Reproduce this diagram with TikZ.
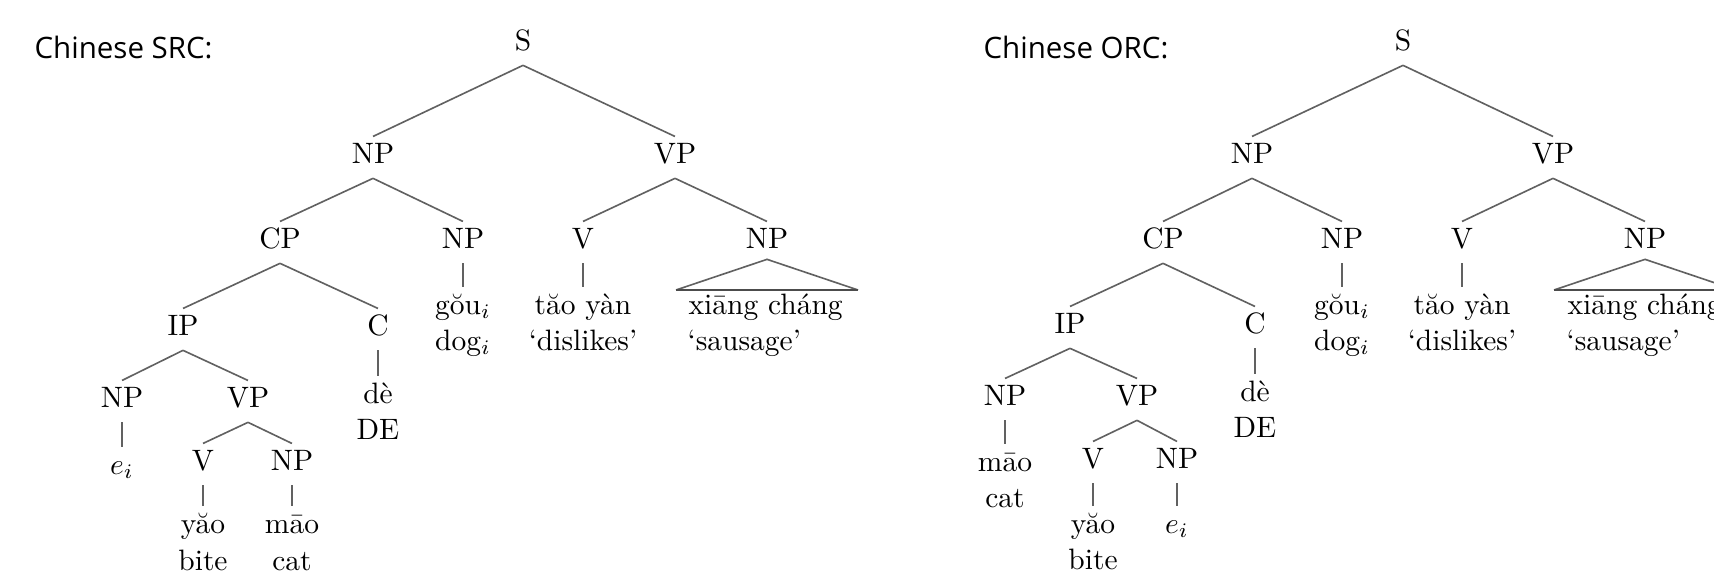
\documentclass[tikz,border=0pt]{standalone}
\usepackage{fontspec}
\newfontfamily\titlefont{Open Sans}
\usetikzlibrary{calc}
\tikzset{
  tn/.style={anchor=base, inner xsep=0pt, inner ysep=0pt, text height=8.8pt, text depth=5pt, font=\fontsize{10}{12}\selectfont},
  edge/.style={draw=black!62, line width=0.55pt},
  tribase/.style={draw=black!70, line width=0.8pt},
  ttl/.style={anchor=base west, inner sep=0pt, font=\titlefont\fontsize{10}{12}\selectfont},
}
\begin{document}
\begin{tikzpicture}[x=0.339pt, y=-0.339pt]
\clip (0,0) rectangle (1714,584);
\fill[white] (0,0) rectangle (1714,584);
% ---------- titles ----------
\node[ttl] (t1) at (34,58) {Chinese SRC:};
\node[ttl] (t2) at (983,58) {Chinese ORC:};
% ---------- left tree (SRC) ----------
\node[tn] (LS) at (523,50) {S};
\node[tn] (LNP1) at (373,163) {NP};
\node[tn] (LVP1) at (675,163) {VP};
\node[tn] (LCP) at (280,248) {CP};
\node[tn] (LNP2) at (463,248) {NP};
\node[tn] (LV1) at (583,248) {V};
\node[tn] (LNP3) at (767,248) {NP};
\node[tn] (LIP) at (183,335) {IP};
\node[tn] (LC) at (378,335) {C};
\node[tn] (LNP4) at (122,407) {NP};
\node[tn] (LVP2) at (248,407) {VP};
\node[tn] (LV2) at (203,470) {V};
\node[tn] (LNP5) at (292,470) {NP};
\node[tn] (Lei) at (122,474) {$e_i$};
\node[tn] (Lyao) at (203,533) {yăo};
\node[tn] (Lbite) at (203,570) {bite};
\node[tn] (Lmao) at (292,533) {māo};
\node[tn] (Lcat) at (292,570) {cat};
\node[tn] (Lde) at (378,403) {dè};
\node[tn] (LDE) at (378,439) {DE};
\node[tn] (Lgou) at (463,314) {gŏu$_i$};
\node[tn] (Ldog) at (463,350) {dog$_i$};
\node[tn] (Ltao) at (583,314) {tăo yàn};
\node[tn] (Ldis) at (583,350) {‘dislikes’};
\node[tn, anchor=base west] (Lxc) at (688,314) {xiāng cháng};
\node[tn, anchor=base west] (Lsau) at (687,350) {‘sausage’};
\coordinate (LtriL) at (676,290);
\coordinate (LtriR) at (858,290);
\draw[edge] (LS.south) -- (LNP1.north);
\draw[edge] (LS.south) -- (LVP1.north);
\draw[edge] (LNP1.south) -- (LCP.north);
\draw[edge] (LNP1.south) -- (LNP2.north);
\draw[edge] (LVP1.south) -- (LV1.north);
\draw[edge] (LVP1.south) -- (LNP3.north);
\draw[edge] (LCP.south) -- (LIP.north);
\draw[edge] (LCP.south) -- (LC.north);
\draw[edge] (LIP.south) -- (LNP4.north);
\draw[edge] (LIP.south) -- (LVP2.north);
\draw[edge] (LVP2.south) -- (LV2.north);
\draw[edge] (LVP2.south) -- (LNP5.north);
\draw[edge] (LNP4.south) -- (Lei.north);
\draw[edge] (LV2.south) -- (Lyao.north);
\draw[edge] (LNP5.south) -- (Lmao.north);
\draw[edge] (LC.south) -- (Lde.north);
\draw[edge] (LNP2.south) -- (Lgou.north);
\draw[edge] (LV1.south) -- (Ltao.north);
\draw[edge] (LtriL) -- ($(LNP3.south)+(0,-4)$) -- (LtriR);
\draw[tribase] (LtriL) -- (LtriR);
% ---------- right tree (ORC) ----------
\node[tn] (RS) at (1403,50) {S};
\node[tn] (RNP1) at (1252,163) {NP};
\node[tn] (RVP1) at (1553,163) {VP};
\node[tn] (RCP) at (1163,248) {CP};
\node[tn] (RNP2) at (1342,248) {NP};
\node[tn] (RV1) at (1462,248) {V};
\node[tn] (RNP3) at (1645,248) {NP};
\node[tn] (RIP) at (1070,333) {IP};
\node[tn] (RC) at (1255,333) {C};
\node[tn] (RNP4) at (1005,405) {NP};
\node[tn] (RVP2) at (1137,405) {VP};
\node[tn] (RV2) at (1093,468) {V};
\node[tn] (RNP5) at (1177,468) {NP};
\node[tn] (Rmao) at (1005,471) {māo};
\node[tn] (Rcat) at (1005,507) {cat};
\node[tn] (Ryao) at (1093,533) {yăo};
\node[tn] (Rbite) at (1093,569) {bite};
\node[tn] (Rei) at (1177,533) {$e_i$};
\node[tn] (Rde) at (1255,401) {dè};
\node[tn] (RDE) at (1255,437) {DE};
\node[tn] (Rgou) at (1342,314) {gŏu$_i$};
\node[tn] (Rdog) at (1342,350) {dog$_i$};
\node[tn] (Rtao) at (1462,314) {tăo yàn};
\node[tn] (Rdis) at (1462,350) {‘dislikes’};
\node[tn, anchor=base west] (Rxc) at (1567,314) {xiāng cháng};
\node[tn, anchor=base west] (Rsau) at (1566,350) {‘sausage’};
\coordinate (RtriL) at (1554,290);
\coordinate (RtriR) at (1736,290);
\draw[edge] (RS.south) -- (RNP1.north);
\draw[edge] (RS.south) -- (RVP1.north);
\draw[edge] (RNP1.south) -- (RCP.north);
\draw[edge] (RNP1.south) -- (RNP2.north);
\draw[edge] (RVP1.south) -- (RV1.north);
\draw[edge] (RVP1.south) -- (RNP3.north);
\draw[edge] (RCP.south) -- (RIP.north);
\draw[edge] (RCP.south) -- (RC.north);
\draw[edge] (RIP.south) -- (RNP4.north);
\draw[edge] (RIP.south) -- (RVP2.north);
\draw[edge] (RVP2.south) -- (RV2.north);
\draw[edge] (RVP2.south) -- (RNP5.north);
\draw[edge] (RNP4.south) -- (Rmao.north);
\draw[edge] (RV2.south) -- (Ryao.north);
\draw[edge] (RNP5.south) -- (Rei.north);
\draw[edge] (RC.south) -- (Rde.north);
\draw[edge] (RNP2.south) -- (Rgou.north);
\draw[edge] (RV1.south) -- (Rtao.north);
\draw[edge] (RtriL) -- ($(RNP3.south)+(0,-4)$) -- (RtriR);
\draw[tribase] (RtriL) -- (RtriR);
\end{tikzpicture}
\end{document}
